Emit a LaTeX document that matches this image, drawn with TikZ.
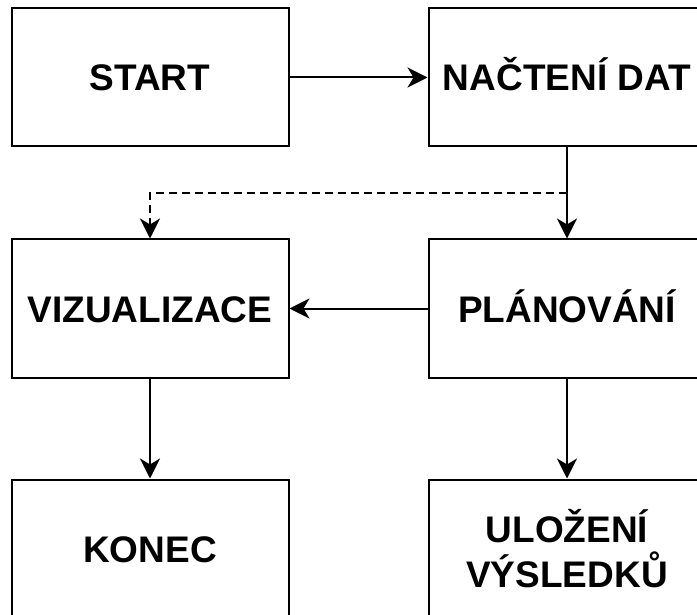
\documentclass[tikz,border=0pt]{standalone}
\usepackage{fontspec}
\setmainfont{Liberation Sans}
\usetikzlibrary{positioning,arrows.meta,calc}
\begin{document}
\begin{tikzpicture}[
    x=1pt, y=-1pt,
    node distance=91pt and 138pt,
    every node/.style={font=\fontsize{37}{44.4}\selectfont\bfseries},
    stepbox/.style={rectangle, draw=black, line width=2pt,
        minimum width=277pt, minimum height=138pt, inner sep=0pt,
        align=center},
    oneline/.style={stepbox, text height=27pt, text depth=0pt},
    flow/.style={draw=black, line width=2pt,
        -{Stealth[length=20pt, width=20pt, inset=6pt]}},
    altflow/.style={flow, dash pattern=on 8pt off 5pt},
]
\useasboundingbox (0,0) rectangle (697,615);
\node[oneline] (start) at (150,77.5) {START};
\node[oneline, right=of start] (nacteni) {NAČTENÍ DAT};
\node[oneline, below=of nacteni] (planovani) {PLÁNOVÁNÍ};
\node[oneline, left=of planovani] (vizualizace) {VIZUALIZACE};
\node[oneline, below=100pt of vizualizace] (konec) {KONEC};
\node[stepbox, below=100pt of planovani] (ulozeni) {ULOŽENÍ\\VÝSLEDKŮ};
\coordinate (split) at ($(nacteni.south)!0.5!(planovani.north)$);
% connectors
\draw[flow] (start) -- (nacteni);
\draw[flow] (nacteni) -- (planovani);
\draw[altflow] (split) -| (vizualizace.north);
\draw[flow] (planovani) -- (vizualizace);
\draw[flow] (vizualizace) -- (konec);
\draw[flow] (planovani) -- (ulozeni);
\end{tikzpicture}
\end{document}
